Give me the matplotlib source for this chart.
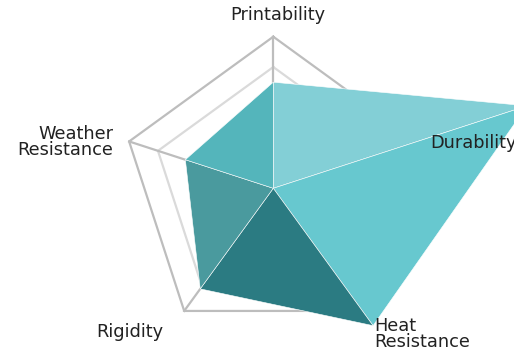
import numpy as np
import matplotlib
matplotlib.use("Agg")
import matplotlib.pyplot as plt

categories = ["Printability", "Durability", "Heat\nResistance", "Rigidity", "Weather\nResistance"]
values = [3.5, 8.8, 5.6, 4.1, 3.05]
ring_levels = [4, 5]
sector_colors = ["#83CFD6", "#67C8CF", "#2B7B82", "#4A9A9E", "#54B5BB"]

plt.rcParams['font.family'] = ['DejaVu Sans']

W, H = 514, 348
fig = plt.figure(figsize=(W / 100, H / 100), dpi=100)
cx, cy, R = 273.3, 188.3, 151.6
ax = fig.add_axes([(cx - R) / W, (H - cy - R) / H, 2 * R / W, 2 * R / H], projection='polar')
ax.set_theta_offset(np.pi / 2)
ax.set_theta_direction(-1)
ax.set_ylim(0, 5)
ax.axis('off')

n = len(categories)
theta = np.arange(n) * 2 * np.pi / n
tc = np.append(theta, theta[0])

# grid rings
ring_cols = {4: "#DADADA", 5: "#BDBDBD"}
for lv in ring_levels:
    ax.plot(tc, [lv] * (n + 1), color=ring_cols[lv], lw=1.6, clip_on=False, zorder=1)
for t in theta:
    ax.plot([t, t], [0, 5], color="#BDBDBD", lw=1.6, clip_on=False, zorder=1)

# data sectors
for i in range(n):
    j = (i + 1) % n
    ts = [0, theta[i], theta[j] if j else 2 * np.pi, 0]
    rs = [0, values[i], values[j], 0]
    ax.fill(ts, rs, color=sector_colors[i], edgecolor="#FFFFFF", lw=0.4,
            alpha=1, clip_on=False, zorder=2)

# labels
label_pos = [  # (theta_deg clockwise from north, r, ha)
    (1.5, 5.72, 'center'),
    (73.9, 5.39, 'left'),
    (145.4, 5.85, 'left'),
    (217.5, 5.98, 'right'),
    (286.0, 5.50, 'right'),
]
for lab, (td, r, ha) in zip(categories, label_pos):
    ax.text(np.deg2rad(td), r, lab, ha=ha, va='center', fontsize=12.8,
            color="#222222", linespacing=0.85, clip_on=False, zorder=5,
            multialignment=ha if ha != 'center' else 'center')

fig.savefig("out.png", dpi=100)
